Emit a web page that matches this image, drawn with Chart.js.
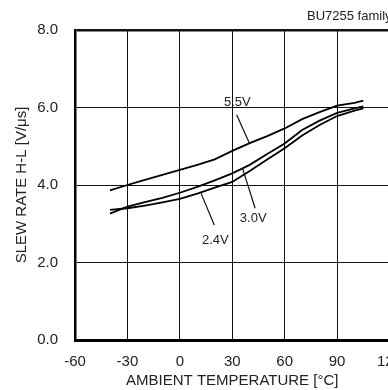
<!DOCTYPE html>
<html>
<head>
<meta charset="utf-8">
<script src="https://cdn.jsdelivr.net/npm/chart.js@4.4.0/dist/chart.umd.js"></script>
<style>
  html, body { margin: 0; padding: 0; background: #fff; overflow: hidden; }
  canvas { display: block; }
</style>
</head>
<body>
<canvas id="slewChart" width="415" height="390"></canvas>
<script>
// Slew rate H-L vs ambient temperature (BU7255 family)
const temps   = [-40, -30, -20, -10, 0, 10, 20, 30, 40, 50, 60, 70, 80, 90, 100, 105];
const slew55V = [3.86, 4.00, 4.13, 4.26, 4.39, 4.52, 4.66, 4.88, 5.08, 5.26, 5.46, 5.70, 5.88, 6.05, 6.12, 6.18];
const slew30V = [3.26, 3.44, 3.56, 3.67, 3.80, 3.95, 4.12, 4.30, 4.52, 4.80, 5.07, 5.42, 5.66, 5.86, 5.98, 6.03];
const slew24V = [3.36, 3.40, 3.47, 3.55, 3.64, 3.78, 3.93, 4.08, 4.36, 4.66, 4.95, 5.28, 5.55, 5.78, 5.92, 5.98];
const xTicks  = [-60, -30, 0, 30, 60, 90, 120];
const yTicks  = [0, 2, 4, 6, 8];

// curve labels with leader lines, in data units [label, textX, textY, fromX, fromY, toX, toY]
const curveLabels = [
    ['5.5V', 32.9, 6.14, 32.5, 5.81, 39.7, 5.09],
    ['3.0V', 42.0, 3.15, 43.1, 3.40, 35.9, 4.43],
    ['2.4V', 20.3, 2.58, 19.7, 2.97, 12.1, 3.79]
];

function pts(values) {
    return temps.map(function(t, i) { return { x: t, y: values[i] }; });
}

const FONT = "'Liberation Sans', Arial, sans-serif";

const annotate = {
    id: 'annotate',
    afterDatasetsDraw: function(chart) {
        const ctx = chart.ctx;
        const xs = chart.scales.x, ys = chart.scales.y;
        ctx.save();
        ctx.fillStyle = '#222';
        ctx.strokeStyle = '#111';
        ctx.lineWidth = 1.2;
        ctx.font = '13px ' + FONT;
        ctx.textAlign = 'center';
        ctx.textBaseline = 'middle';
        curveLabels.forEach(function(l) {
            ctx.fillText(l[0], xs.getPixelForValue(l[1]), ys.getPixelForValue(l[2]));
            ctx.beginPath();
            ctx.moveTo(xs.getPixelForValue(l[3]), ys.getPixelForValue(l[4]));
            ctx.lineTo(xs.getPixelForValue(l[5]), ys.getPixelForValue(l[6]));
            ctx.stroke();
        });
        ctx.font = '13px ' + FONT;
        ctx.textAlign = 'left';
        ctx.fillText('BU7255 family', 307, 16);
        ctx.restore();
    }
};

function line(data) {
    return {
        data: pts(data),
        borderColor: '#000',
        borderWidth: 1.8,
        pointRadius: 0,
        tension: 0,
        fill: false
    };
}

new Chart(document.getElementById('slewChart'), {
    type: 'line',
    data: {
        datasets: [line(slew55V), line(slew30V), line(slew24V)]
    },
    options: {
        responsive: false,
        animation: false,
        events: [],
        layout: { padding: { top: 30, right: 0, left: 0, bottom: 0 } },
        plugins: { legend: { display: false }, tooltip: { enabled: false } },
        scales: {
            x: {
                type: 'linear',
                min: xTicks[0],
                max: xTicks[xTicks.length - 1],
                afterBuildTicks: function(s) { s.ticks = xTicks.map(function(v) { return { value: v }; }); },
                afterFit: function(s) { s.height = 50; },
                grid: { color: '#111', lineWidth: 1, drawTicks: false },
                border: { color: '#000', width: 3 },
                ticks: { padding: 13, color: '#222', font: { family: FONT, size: 15 }, maxRotation: 0 },
                title: {
                    display: true,
                    text: 'AMBIENT TEMPERATURE [°C]',
                    color: '#222',
                    font: { family: FONT, size: 15 },
                    padding: { top: 0, bottom: 0 }
                }
            },
            y: {
                min: 0,
                max: 8,
                afterBuildTicks: function(s) { s.ticks = yTicks.map(function(v) { return { value: v }; }); },
                afterFit: function(s) { s.width = 75; },
                grid: {
                    color: '#111',
                    lineWidth: function(c) { return c.tick && c.tick.value === 8 ? 2.5 : 1; },
                    drawTicks: false
                },
                border: { color: '#000', width: 2.5 },
                ticks: {
                    padding: 17,
                    color: '#222',
                    font: { family: FONT, size: 15 },
                    callback: function(v) { return v.toFixed(1); }
                },
                title: {
                    display: true,
                    text: 'SLEW RATE H-L [V/μs]',
                    color: '#222',
                    font: { family: FONT, size: 15 },
                    padding: { top: 13, bottom: 0 }
                }
            }
        }
    },
    plugins: [annotate]
});
</script>
</body>
</html>
